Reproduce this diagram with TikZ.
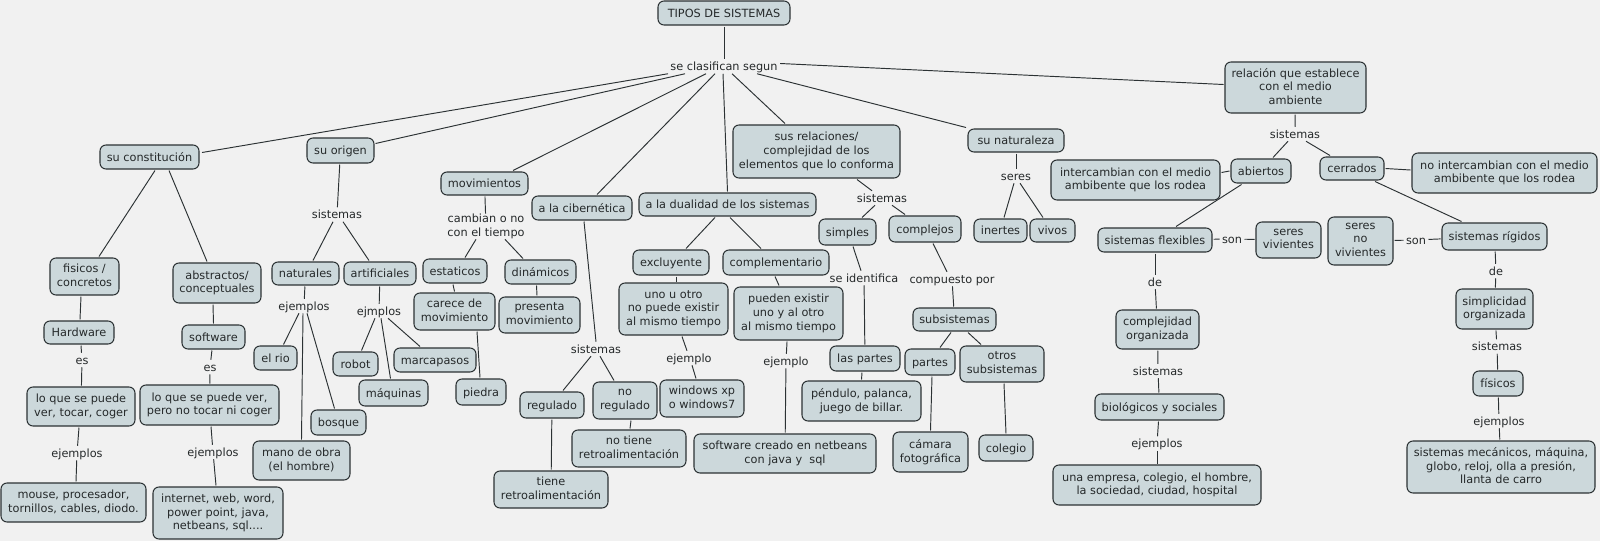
\documentclass[tikz,border=0pt]{standalone}
\usepackage{fontspec}
\setmainfont{DejaVu Sans}
\definecolor{bgcolor}{HTML}{F1F1F1}
\definecolor{boxcolor}{HTML}{CCD8DB}
\definecolor{linecolor}{HTML}{2C3234}
\definecolor{textcolor}{HTML}{25292A}
\newcommand{\topgap}{\rule{0pt}{11pt}}
\newcommand{\botgap}{\rule[-2.5pt]{0pt}{2.5pt}}
\tikzset{
  txt/.style={font=\fontsize{11.3}{13.6}\selectfont, text=textcolor, align=center,
    execute at begin node=\topgap, execute at end node=\botgap},
  box/.style={txt, draw=linecolor, fill=boxcolor, line width=1.05pt, rounded corners=6pt,
    inner sep=0pt, outer sep=1.5pt},
  wh/.style 2 args={minimum width=#1pt, minimum height=#2pt},
  lab/.style={txt, inner ysep=0pt, inner xsep=2pt, outer sep=0.5pt},
  link/.style={draw=linecolor, line width=0.95pt}
}
\begin{document}
\begin{tikzpicture}[x=1pt,y=-1pt]

\useasboundingbox (0,0) rectangle (1600,541);
\fill[bgcolor] (0,0) rectangle (1600,541);

% top

\node[box,wh={132}{24}] (tipos) at (724,13) {TIPOS DE SISTEMAS};
\node[lab] (clasif) at (724,66.5) {se clasifican segun};

% first level

\node[box,wh={99}{24}] (consti) at (149.5,157) {su constitución};
\node[box,wh={67}{25}] (origen) at (340.5,150.5) {su origen};
\node[box,wh={87}{23}] (movim) at (484.5,183.5) {movimientos};
\node[box,wh={100}{24}] (ciber) at (582,208) {a la cibernética};
\node[box,wh={177}{23}] (dual) at (727.5,204.5) {a la dualidad de los sistemas};
\node[box,wh={167}{53}] (sus) at (816.5,151.5) {sus relaciones/\\complejidad de los\\elementos que lo conforma};
\node[box,wh={96}{23}] (natur) at (1016,140.5) {su naturaleza};
\node[box,wh={141}{51}] (relac) at (1295.5,87.5) {relación que establece\\con el medio\\ambiente};

% su constitucion

\node[box,wh={69}{37}] (fisico) at (84.5,276.5) {fisicos /\\concretos};
\node[box,wh={88}{40}] (abstr) at (217,283) {abstractos/\\conceptuales};
\node[box,wh={70}{23}] (hard) at (79,332.5) {Hardware};
\node[box,wh={63}{24}] (soft) at (213.5,337) {software};
\node[lab] (es1) at (82,360) {es};
\node[lab] (es2) at (210,367) {es};
\node[box,wh={108}{39}] (lo1) at (81,406.5) {lo que se puede\\ver, tocar, coger};
\node[box,wh={139}{40}] (lo2) at (209.5,405) {lo que se puede ver,\\pero no tocar ni coger};
\node[lab] (ej1) at (77,453) {ejemplos};
\node[lab] (ej2) at (213,452) {ejemplos};
\node[box,wh={145}{39}] (mouse) at (73.5,502.5) {mouse, procesador,\\tornillos, cables, diodo.};
\node[box,wh={130}{52}] (inet) at (218,513) {internet, web, word,\\power point, java,\\netbeans, sql....};

% su origen

\node[lab] (sist1) at (337,214.5) {sistemas};
\node[box,wh={67}{23}] (natu) at (305.5,273.5) {naturales};
\node[box,wh={72}{23}] (arti) at (380,273.5) {artificiales};
\node[lab] (ej3) at (304,306) {ejemplos};
\node[lab] (ej4) at (379,311) {ejmplos};
\node[box,wh={43}{24}] (rio) at (275.5,358) {el rio};
\node[box,wh={55}{25}] (bosq) at (338.5,422.5) {bosque};
\node[box,wh={97}{39}] (mano) at (301.5,460.5) {mano de obra\\(el hombre)};
\node[box,wh={45}{24}] (robot) at (355.5,364) {robot};
\node[box,wh={69}{26}] (maqu) at (393.5,393) {máquinas};
\node[box,wh={82}{24}] (marca) at (435,360) {marcapasos};

% movimientos

\node[lab] (camb) at (486,226.5) {cambian o no\\con el tiempo};
\node[box,wh={64}{24}] (esta) at (455,271) {estaticos};
\node[box,wh={71}{24}] (dina) at (540.5,272) {dinámicos};
\node[box,wh={81}{37}] (carece) at (454.5,311.5) {carece de\\movimiento};
\node[box,wh={81}{36}] (pres) at (539.5,315) {presenta\\movimiento};
\node[box,wh={50}{26}] (piedra) at (481,392) {piedra};

% cibernetica

\node[lab] (sist2) at (596,349) {sistemas};
\node[box,wh={64}{26}] (regu) at (552,405) {regulado};
\node[box,wh={64}{37}] (noreg) at (625,400.5) {no\\regulado};
\node[box,wh={114}{37}] (notiene) at (629,448.5) {no tiene\\retroalimentación};
\node[box,wh={114}{37}] (tiene) at (551,489.5) {tiene\\retroalimentación};

% dualidad

\node[box,wh={76}{25}] (exclu) at (671,262.5) {excluyente};
\node[box,wh={106}{25}] (compl) at (776,262.5) {complementario};
\node[box,wh={109}{52}] (uno) at (673.5,309) {uno u otro\\no puede existir\\al mismo tiempo};
\node[box,wh={109}{53}] (pueden) at (788.5,313.5) {pueden existir\\uno y al otro\\al mismo tiempo};
\node[lab] (ejm1) at (689,358) {ejemplo};
\node[lab] (ejm2) at (786,361) {ejemplo};
\node[box,wh={84}{37}] (wind) at (702,398.5) {windows xp\\o windows7};
\node[box,wh={182}{39}] (softc) at (785,453.5) {software creado en netbeans\\con java y~ sql};

% relaciones

\node[lab] (sist3) at (882,198) {sistemas};
\node[box,wh={57}{26}] (simples) at (847.5,232) {simples};
\node[box,wh={72}{26}] (compj) at (925,229) {complejos};
\node[lab] (seid) at (864,278) {se identifica};
\node[lab] (compu) at (952,279) {compuesto por};
\node[box,wh={70}{25}] (laspar) at (865,358.5) {las partes};
\node[box,wh={119}{40}] (pend) at (861.5,401) {péndulo, palanca,\\juego de billar.};
\node[box,wh={83}{23}] (subs) at (954.5,319.5) {subsistemas};
\node[box,wh={50}{26}] (partes) at (930,362) {partes};
\node[box,wh={84}{36}] (otros) at (1002,364) {otros\\subsistemas};
\node[box,wh={75}{40}] (camara) at (930.5,452) {cámara\\fotográfica};
\node[box,wh={54}{26}] (colegio) at (1006,448) {colegio};

% naturaleza

\node[lab] (seres) at (1016,176) {seres};
\node[box,wh={53}{23}] (inertes) at (1000.5,230.5) {inertes};
\node[box,wh={45}{23}] (vivos) at (1052.5,230.5) {vivos};

% medio ambiente

\node[lab] (sist4) at (1295,134) {sistemas};
\node[box,wh={60}{24}] (abi) at (1261,171) {abiertos};
\node[box,wh={64}{23}] (cerr) at (1352,168.5) {cerrados};
\node[box,wh={169}{40}] (inter) at (1135.5,180) {intercambian con el medio\\ambibente que los rodea};
\node[box,wh={185}{40}] (nointer) at (1504.5,173) {no intercambian con el medio\\ambibente que los rodea};
\node[box,wh={114}{24}] (flex) at (1155,240) {sistemas flexibles};
\node[lab] (son1) at (1232,239) {son};
\node[box,wh={65}{36}] (viv) at (1288.5,240) {seres\\vivientes};
\node[box,wh={65}{48}] (noviv) at (1360.5,241) {seres\\no\\vivientes};
\node[lab] (son2) at (1416,240) {son};
\node[box,wh={105}{27}] (rig) at (1494.5,236.5) {sistemas rígidos};
\node[lab] (de1) at (1155,282) {de};
\node[box,wh={83}{39}] (compo) at (1157.5,329.5) {complejidad\\organizada};
\node[lab] (sist5) at (1158,371) {sistemas};
\node[box,wh={129}{26}] (bio) at (1159.5,407) {biológicos y sociales};
\node[lab] (ej5) at (1157,443.5) {ejemplos};
\node[box,wh={208}{40}] (emp) at (1157,485) {una empresa, colegio, el hombre,\\la sociedad, ciudad, hospital};
\node[lab] (de2) at (1496,271) {de};
\node[box,wh={77}{40}] (simpl) at (1494.5,309) {simplicidad\\organizada};
\node[lab] (sist6) at (1497,346.5) {sistemas};
\node[box,wh={50}{25}] (fisic) at (1498,383.5) {físicos};
\node[lab] (ej6) at (1499,421) {ejemplos};
\node[box,wh={188}{52}] (mec) at (1501,467) {sistemas mecánicos, máquina,\\globo, reloj, olla a presión,\\llanta de carro};

% edges

\draw[link] (tipos) -- (clasif);
\draw[link] ([xshift=-56pt]clasif.south) -- ([xshift=52.5pt,yshift=-9pt]consti.north);
\draw[link] ([xshift=-39pt]clasif.south) -- ([yshift=-7pt]origen.north east);
\draw[link] ([xshift=-18pt]clasif.south) -- ([xshift=28.5pt]movim.north);
\draw[link] ([xshift=-9pt]clasif.south) -- ([xshift=15pt]ciber.north);
\draw[link] ([xshift=-1pt]clasif.south) -- (dual.north);
\draw[link] ([xshift=8pt]clasif.south) -- ([xshift=-31.5pt]sus.north);
\draw[link] ([xshift=33pt]clasif.south) -- ([xshift=-50pt]natur.north);
\draw[link] ([yshift=3pt]clasif.east) -- ([yshift=3pt]relac.west);

\draw[link] ([xshift=5.5pt]consti.south) -- ([xshift=14.5pt]fisico.north);
\draw[link] ([xshift=19.5pt]consti.south) -- ([xshift=-10pt]abstr.north);
\draw[link] ([xshift=-3.5pt]fisico.south) -- ([xshift=1pt]hard.north);
\draw[link] ([xshift=-4pt]abstr.south) -- (soft.north);
\draw[link] ([xshift=2pt]hard.south) -- (es1);
\draw[link] (es1) -- (lo1);
\draw[link] (soft) -- (es2);
\draw[link] (es2) -- (lo2);
\draw[link] ([xshift=-2pt]lo1.south) -- (ej1);
\draw[link] (ej1) -- ([xshift=2.5pt]mouse.north);
\draw[link] ([xshift=1.5pt]lo2.south) -- (ej2);
\draw[link] (ej2) -- ([xshift=-2pt]inet.north);

\draw[link] (origen) -- (sist1);
\draw[link] ([xshift=-4pt]sist1.south) -- ([xshift=7.5pt]natu.north);
\draw[link] ([xshift=6pt]sist1.south) -- ([xshift=-11pt]arti.north);
\draw[link] (natu) -- (ej3);
\draw[link] (arti) -- (ej4);
\draw[link] ([xshift=-5pt]ej3.south) -- ([xshift=8pt]rio.north);
\draw[link] ([xshift=-1pt]ej3.south) -- (mano.north);
\draw[link] ([xshift=3pt]ej3.south) -- ([xshift=-4pt]bosq.north);
\draw[link] ([xshift=-4pt]ej4.south) -- ([xshift=6pt]robot.north);
\draw[link] ([xshift=2pt]ej4.south) -- ([xshift=-3pt]maqu.north);
\draw[link] ([xshift=9pt]ej4.south) -- ([xshift=-15pt]marca.north);

\draw[link] (movim) -- (camb);
\draw[link] ([xshift=-10pt]camb.south) -- ([xshift=10pt]esta.north);
\draw[link] ([xshift=19pt]camb.south) -- ([xshift=-17.5pt]dina.north);
\draw[link] ([xshift=-2pt]esta.south) -- (carece.north);
\draw[link] ([xshift=-4pt]dina.south) -- ([xshift=-2.5pt]pres.north);
\draw[link] ([xshift=22.5pt]carece.south) -- ([xshift=-1pt]piedra.north);

\draw[link] ([xshift=2pt]ciber.south) -- (sist2.north);
\draw[link] ([xshift=-5pt]sist2.south) -- ([xshift=11pt]regu.north);
\draw[link] ([xshift=4pt]sist2.south) -- ([xshift=-11pt]noreg.north);
\draw[link] (regu) -- (tiene);
\draw[link] ([xshift=6pt]noreg.south) -- ([xshift=1pt]notiene.north);

\draw[link] ([xshift=-12.5pt]dual.south) -- ([xshift=15pt]exclu.north);
\draw[link] ([xshift=2.5pt]dual.south) -- ([xshift=-15pt]compl.north);
\draw[link] ([xshift=5pt]exclu.south) -- ([xshift=2.5pt]uno.north);
\draw[link] ([xshift=-1pt]compl.south) -- ([xshift=-9.5pt]pueden.north);
\draw[link] ([xshift=8.5pt]uno.south) -- ([xshift=-2pt]ejm1.north);
\draw[link] ([xshift=3pt]ejm1.south) -- ([xshift=-6pt]wind.north);
\draw[link] (pueden) -- (ejm2);
\draw[link] (ejm2) -- (softc);

\draw[link] ([xshift=40.5pt]sus.south) -- ([xshift=-10pt]sist3.north);
\draw[link] ([xshift=-7pt]sist3.south) -- ([xshift=14.5pt]simples.north);
\draw[link] ([xshift=10pt]sist3.south) -- ([xshift=-20pt]compj.north);
\draw[link] ([xshift=5.5pt]simples.south) -- ([xshift=-3pt]seid.north);
\draw[link] (seid) -- (laspar);
\draw[link] ([xshift=-3pt]laspar.south) -- (pend.north);
\draw[link] ([xshift=8pt]compj.south) -- ([xshift=-5pt]compu.north);
\draw[link] (compu) -- (subs);
\draw[link] ([xshift=-3.5pt]subs.south) -- ([xshift=10pt]partes.north);
\draw[link] ([xshift=13.5pt]subs.south) -- ([xshift=-21pt]otros.north);
\draw[link] ([xshift=2pt]partes.south) -- (camara.north);
\draw[link] ([xshift=2pt]otros.south) -- (colegio.north);

\draw[link] (natur) -- (seres);
\draw[link] ([xshift=-2pt]seres.south) -- ([xshift=3.5pt]inertes.north);
\draw[link] ([xshift=4pt]seres.south) -- ([xshift=-9.5pt]vivos.north);

\draw[link] (relac) -- (sist4);
\draw[link] ([xshift=-7pt]sist4.south) -- ([xshift=12pt]abi.north);
\draw[link] ([xshift=11pt]sist4.south) -- ([xshift=-22pt]cerr.north);
\draw[link] (abi.west) -- ([yshift=7.5pt]inter.east);
\draw[link] (cerr.east) -- ([yshift=3pt]nointer.west);
\draw[link] ([xshift=-19.5pt]abi.south) -- ([xshift=21pt]flex.north);
\draw[link] ([xshift=23pt]cerr.south) -- ([xshift=-33pt]rig.north);
\draw[link] (flex) -- (son1);
\draw[link] (son1) -- (viv);
\draw[link] (noviv) -- (son2);
\draw[link] (son2) -- (rig);
\draw[link] (flex) -- (de1);
\draw[link] (de1) -- (compo);
\draw[link] (compo) -- (sist5);
\draw[link] (sist5) -- (bio);
\draw[link] (bio) -- (ej5);
\draw[link] (ej5) -- (emp);
\draw[link] (rig) -- (de2);
\draw[link] (de2) -- (simpl);
\draw[link] (simpl) -- (sist6);
\draw[link] (sist6) -- (fisic);
\draw[link] (fisic) -- (ej6);
\draw[link] (ej6) -- (mec);

\end{tikzpicture}
\end{document}
